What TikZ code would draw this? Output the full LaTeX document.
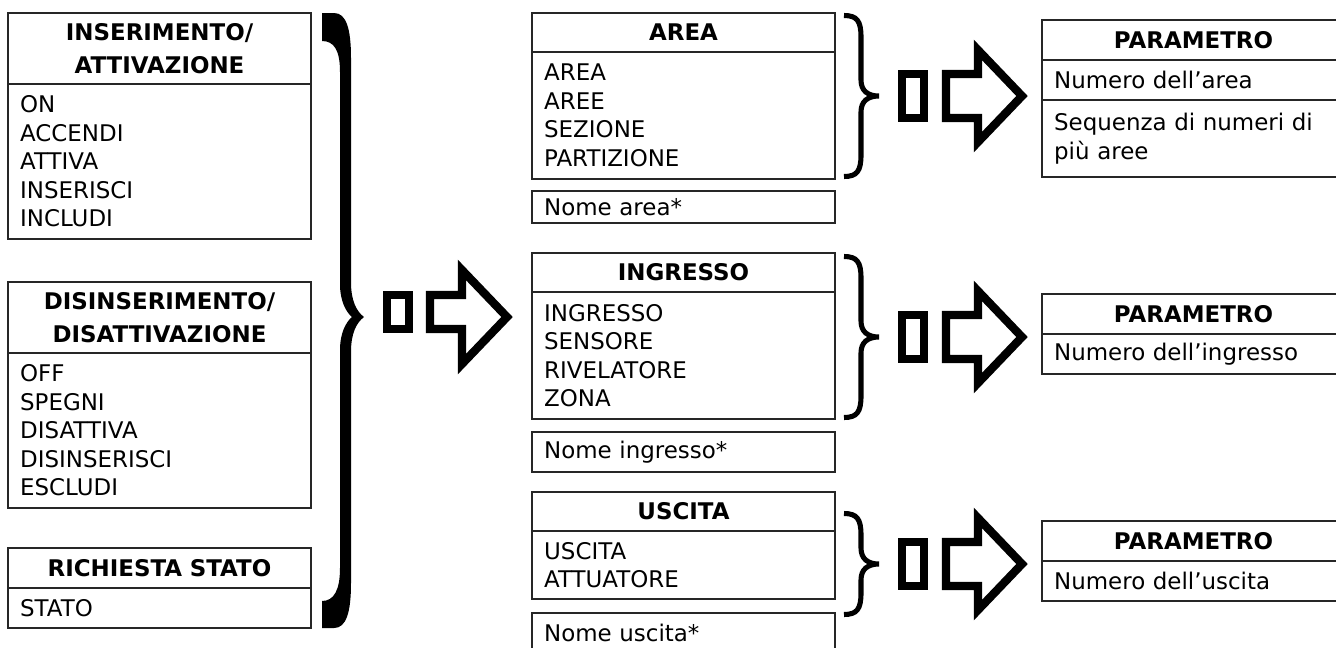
\documentclass[tikz,border=0pt]{standalone}
\usepackage{fontspec}
\setmainfont{DejaVu Sans}

\begin{document}
\begin{tikzpicture}[x=0.75pt, y=-0.75pt,
    box/.style={draw=black!85, line width=1.5pt, anchor=north west, outer sep=0pt,
      minimum width=227.25pt, text width=209pt, inner xsep=8.5pt, inner ysep=0pt,
      align=left, font=\fontsize{17.2pt}{21.4pt}\selectfont},
    hd/.style={box, align=center, font=\fontsize{17.2pt}{24.4pt}\selectfont\bfseries},
    ht/.style={minimum height=#1*0.75pt},
    fat/.style={line width=6.2pt, line join=miter, miter limit=10}]
  \clip (0,0) rectangle (1336,647);
  \fill[white] (0,0) rectangle (1336,647);

  % commands
  \node[hd, ht=71] (insh) at (8,13) {INSERIMENTO/\\ATTIVAZIONE};
  \node[box, ht=155] (insb) at (insh.south west) {ON\\ACCENDI\\ATTIVA\\INSERISCI\\INCLUDI};
  \node[hd, ht=71] (dish) at (8,282) {DISINSERIMENTO/\\DISATTIVAZIONE};
  \node[box, ht=155] (disb) at (dish.south west) {OFF\\SPEGNI\\DISATTIVA\\DISINSERISCI\\ESCLUDI};
  \node[hd, ht=40] (rich) at (8,548) {RICHIESTA STATO};
  \node[box, ht=40] (ricb) at (rich.south west) {STATO};

  % big brace and arrow
  \fill (322,13) -- (334,13) .. controls (346,13) and (351,28) .. (351,58) -- (351,282)
    .. controls (351,300) and (356,311) .. (364,317) .. controls (356,323) and (351,334) .. (351,352)
    -- (351,583) .. controls (351,613) and (346,628) .. (334,628) -- (322,628) -- (322,601)
    .. controls (334,601) and (340,590) .. (340,568) -- (340,350)
    .. controls (340,333) and (346,322) .. (352,317) .. controls (346,312) and (340,301) .. (340,284)
    -- (340,72) .. controls (340,50) and (334,41) .. (322,41) -- cycle;
  \draw[fat] (387,295) rectangle (409,329);
  \draw[fat] (430,295) -- (462,295) -- (462,270) -- (507,317) -- (462,364) -- (462,329) -- (430,329) -- cycle;

  % objects
  \node[hd, ht=39] (areah) at (532,13) {AREA};
  \node[box, ht=127] (areab) at (areah.south west) {AREA\\AREE\\SEZIONE\\PARTIZIONE};
  \node[box, ht=32] (arean) at (532,191) {Nome area*};
  \node[hd, ht=39] (ingh) at (532,253) {INGRESSO};
  \node[box, ht=127] (ingb) at (ingh.south west) {INGRESSO\\SENSORE\\RIVELATORE\\ZONA};
  \node[box, ht=40] (ingn) at (532,432) {Nome ingresso*};
  \node[hd, ht=39] (usch) at (532,492) {USCITA};
  \node[box, ht=68] (uscb) at (usch.south west) {USCITA\\ATTUATORE};
  \node[box, ht=40] (uscn) at (532,613) {Nome uscita*};

  % small braces and arrows
  \foreach \yc/\hh in {96/83, 337/83, 564/53} {
    \draw[line width=3.8pt] (844,\yc-\hh+2.5) .. controls (857,\yc-\hh+2.5) and (861,\yc-\hh+8) .. (861,\yc-\hh+24)
      -- (861,\yc-16) .. controls (861,\yc-5) and (868,\yc) .. (879,\yc)
      .. controls (868,\yc) and (861,\yc+5) .. (861,\yc+16)
      -- (861,\yc+\hh-24) .. controls (861,\yc+\hh-8) and (857,\yc+\hh-2.5) .. (844,\yc+\hh-2.5);
    \draw[fat] (902,\yc-22) rectangle (924,\yc+22);
    \draw[fat] (946,\yc-22) -- (978,\yc-22) -- (978,\yc-46) -- (1022,\yc) -- (978,\yc+46)
      -- (978,\yc+22) -- (946,\yc+22) -- cycle;
  }

  % parameters
  \node[hd, ht=40] (p1h) at (1042,20) {PARAMETRO};
  \node[box, ht=40] (p1a) at (p1h.south west) {Numero dell’area};
  \node[box, ht=77] (p1b) at (p1a.south west) {Sequenza di numeri di\\più aree};
  \node[hd, ht=40] (p2h) at (1042,294) {PARAMETRO};
  \node[box, ht=40] (p2a) at (p2h.south west) {Numero dell’ingresso};
  \node[hd, ht=40] (p3h) at (1042,521) {PARAMETRO};
  \node[box, ht=40] (p3a) at (p3h.south west) {Numero dell’uscita};
\end{tikzpicture}
\end{document}
